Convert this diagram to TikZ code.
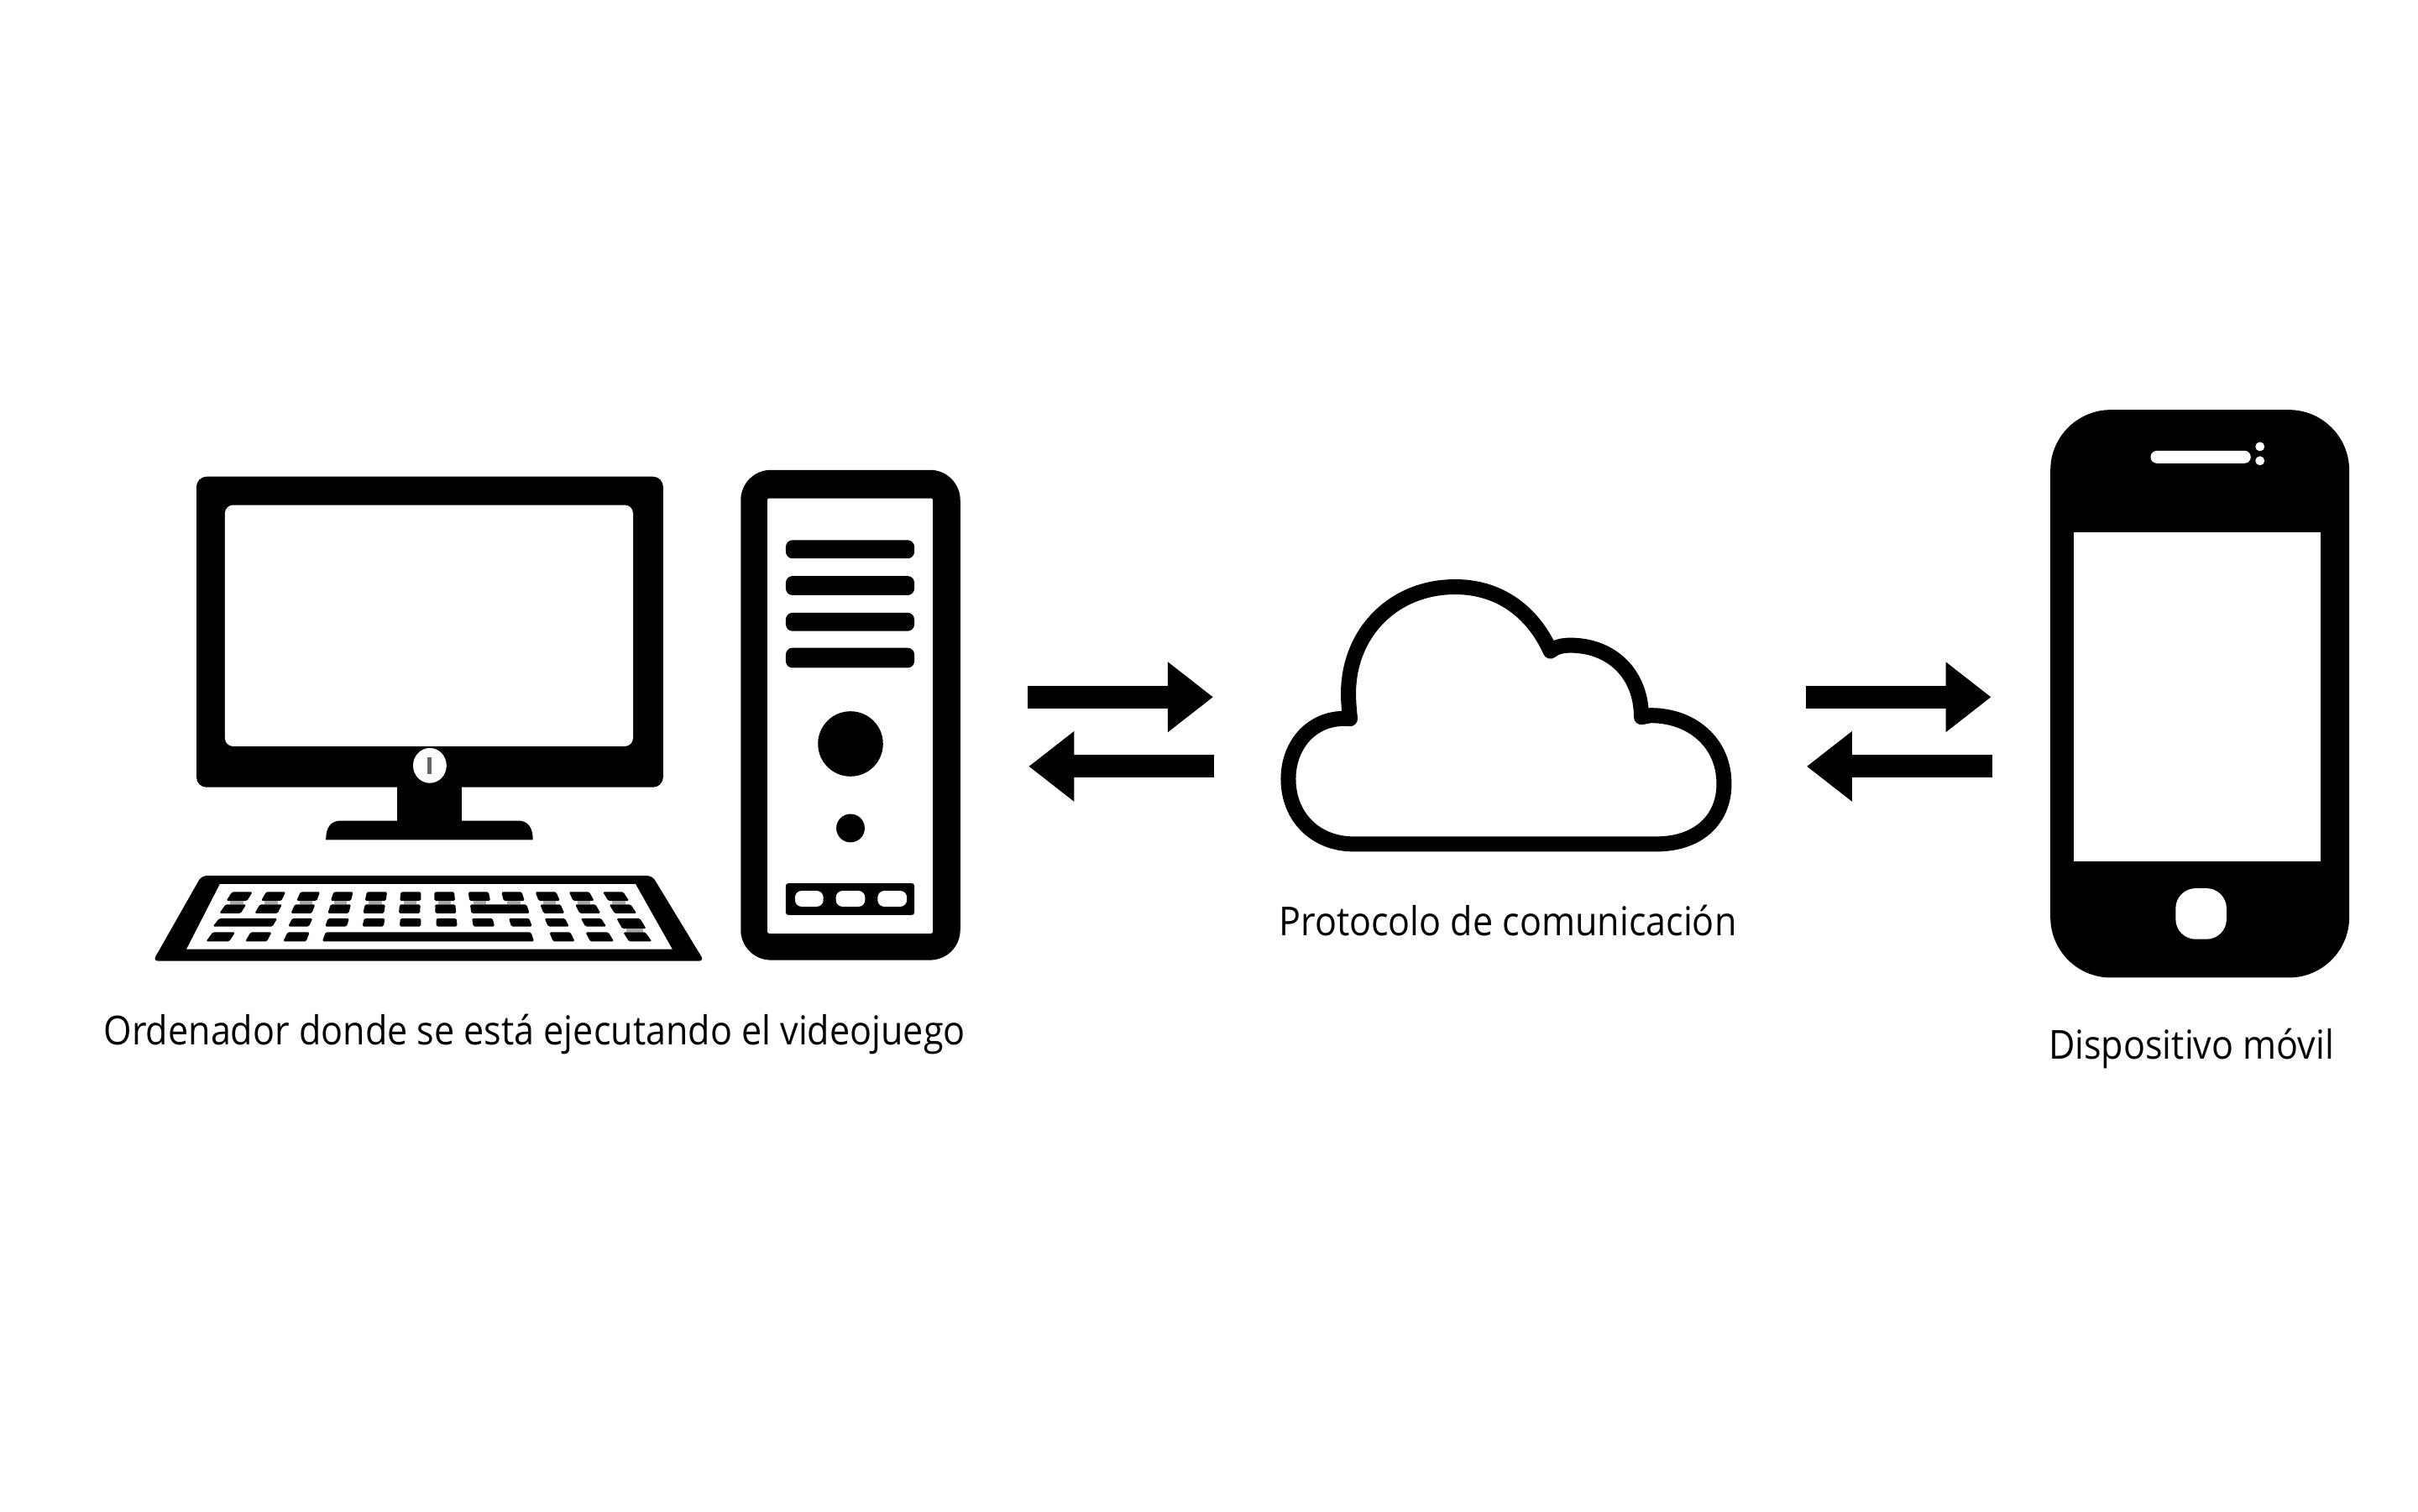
\documentclass[tikz,border=0pt]{standalone}
\usepackage{fontspec}
\setmainfont{Open Sans}[FakeStretch=0.907]
\usetikzlibrary{arrows.meta}
\tikzset{
  ink/.style={fill=black,draw=none},
  hole/.style={fill=white,draw=none},
  label/.style={font=\fontsize{23.75pt}{28pt}\selectfont,text=black,inner sep=0pt,anchor=base},
  flow/.style={draw=black,line width=13.5pt,-{Triangle[length=27pt,width=40pt]}},
  cloudline/.style={draw=black,line width=9pt,line join=round,fill=white},
}
\newcommand{\kbkey}[4]{% x1 x2 y1 y2 in keyboard-crop units
  \fill[black,rounded corners=0.8pt] ({#1+(762-#1)*0.015},#3) -- ({#2+(762-#2)*0.015},#3) -- ({#2-(762-#2)*0.015},#4) -- ({#1-(762-#1)*0.015},#4) -- cycle;}
\newcommand{\kbgap}[4]{%
  \fill[black!35] ({#1+10},#3) -- ({#2-10},#3) -- ({#2-10},#4) -- ({#1+10},#4) -- cycle;}
\begin{document}
\begin{tikzpicture}
\useasboundingbox (0pt,0pt) rectangle (1440pt,-900pt);
\fill[white] (0pt,0pt) rectangle (1440pt,-900pt);
\begin{scope}[shift={(0.7pt,-0.4pt)},x=0.4971pt,y=-0.4973pt]
% monitor
\fill[ink,rounded corners=6pt] (234,570) rectangle (793,942);
\fill[hole,rounded corners=5pt] (268,604) rectangle (757,893);
\fill[ink] (474,935) rectangle (552,985);
\fill[ink] (389,1005) .. controls (389,990) and (395,982) .. (407,982) -- (619,982) .. controls (631,982) and (637,990) .. (637,1005) -- cycle;
\fill[hole] (513.5,916) ellipse [x radius=20,y radius=21];
\fill[black!60] (511,906) rectangle (516,926);
% keyboard
\fill[ink,rounded corners=3pt] (182,1150) -- (240,1048) -- (780,1048) -- (842,1150) -- cycle;
\fill[hole] (262,1058) -- (760,1058) -- (804,1136) -- (222,1136) -- cycle;
\begin{scope}[shift={(170,1034)},x=0.223pt,y=-0.1658pt]
\foreach \a/\b in {230/285,322/375,415/468,505/558,595/650,687/742,778/832,870/925,960/1015,1052/1108,1143/1198,1235/1290}
  \kbkey{\a}{\b}{100}{132};
\foreach \a/\b in {212/268,305/365,400/455,497/552,590/645,684/740,780/835,875/1028,1065/1120,1160/1215,1252/1310}
  \kbkey{\a}{\b}{145}{177};
\foreach \a/\b in {222/278,315/370,408/462,500/555,592/648,686/741,779/833,872/927,962/1017,1058/1113,1150/1205,1243/1298}
  \kbgap{\a}{\b}{132}{145};
\foreach \a/\b in {195/352,393/448,490/547,588/644,686/742,783/838,880/936,980/1035,1077/1132,1175/1230}
  \kbkey{\a}{\b}{195}{224};
\foreach \a/\b in {177/238,280/337,380/440,483/1040,1090/1147,1188/1250,1290/1350}
  \kbkey{\a}{\b}{245}{278};
\kbkey{1272}{1335}{195}{232};
\kbgap{1280}{1345}{232}{245};
\end{scope}
% tower
\fill[ink,rounded corners=18pt] (886,562) rectangle (1149,1149);
\fill[hole,rounded corners=1pt] (918,596) rectangle (1116,1117);
\foreach \t/\u in {646/668,689/712,733/755,775/799}
  \fill[ink,rounded corners=4pt] (940,\t) rectangle (1094,\u);
\fill[ink] (1017.5,890) circle [radius=39];
\fill[ink] (1017.5,991) circle [radius=17];
\fill[ink,rounded corners=1.5pt] (940,1057) rectangle (1094,1095);
\foreach \a/\b in {951/985,1000/1035,1050/1085}
  \fill[hole,rounded corners=4pt] (\a,1066) rectangle (\b,1085);
% arrows
\coordinate (a1s) at (1230,834); \coordinate (a1e) at (1452,834);
\coordinate (a2s) at (1453,917); \coordinate (a2e) at (1231,917);
\coordinate (b1s) at (2162,834); \coordinate (b1e) at (2384,834);
\coordinate (b2s) at (2385,917); \coordinate (b2e) at (2163,917);
\draw[flow] (a1s) -- (a1e);
\draw[flow] (a2s) -- (a2e);
\draw[flow] (b1s) -- (b1e);
\draw[flow] (b2s) -- (b2e);
% cloud
\draw[cloudline] (1620,1010) -- (1983,1010)
  .. controls (2034,1010) and (2064,980) .. (2064,938)
  .. controls (2064,888) and (2025,856) .. (1976,856)
  -- (1965,858)
  .. controls (1965,805) and (1928,772) .. (1880,772)
  .. controls (1870,772) and (1862,774) .. (1856,779)
  .. controls (1835,732) and (1795,702) .. (1742,702)
  .. controls (1668,702) and (1614,757) .. (1614,830)
  .. controls (1614,840) and (1615,850) .. (1616,860)
  .. controls (1572,856) and (1542,890) .. (1542,932)
  .. controls (1542,978) and (1575,1010) .. (1620,1010) -- cycle;
% phone
\fill[ink,rounded corners=36pt] (2455,490) rectangle (2813,1170);
\fill[hole] (2483,637) rectangle (2779,1031);
\fill[hole,rounded corners=3.7pt] (2575,539) rectangle (2695,554);
\fill[hole] (2706,534) circle [radius=5.5];
\fill[hole] (2706,551) circle [radius=5.5];
\fill[hole,rounded corners=12pt] (2605,1063) rectangle (2666,1124);
% labels
\node[label] (lpc) at (639,1250) {Ordenador donde se está ejecutando el videojuego};
\node[label] (lcloud) at (1805,1120) {Protocolo de comunicación};
\node[label] (lphone) at (2624,1268) {Dispositivo móvil};
\end{scope}
\end{tikzpicture}
\end{document}
